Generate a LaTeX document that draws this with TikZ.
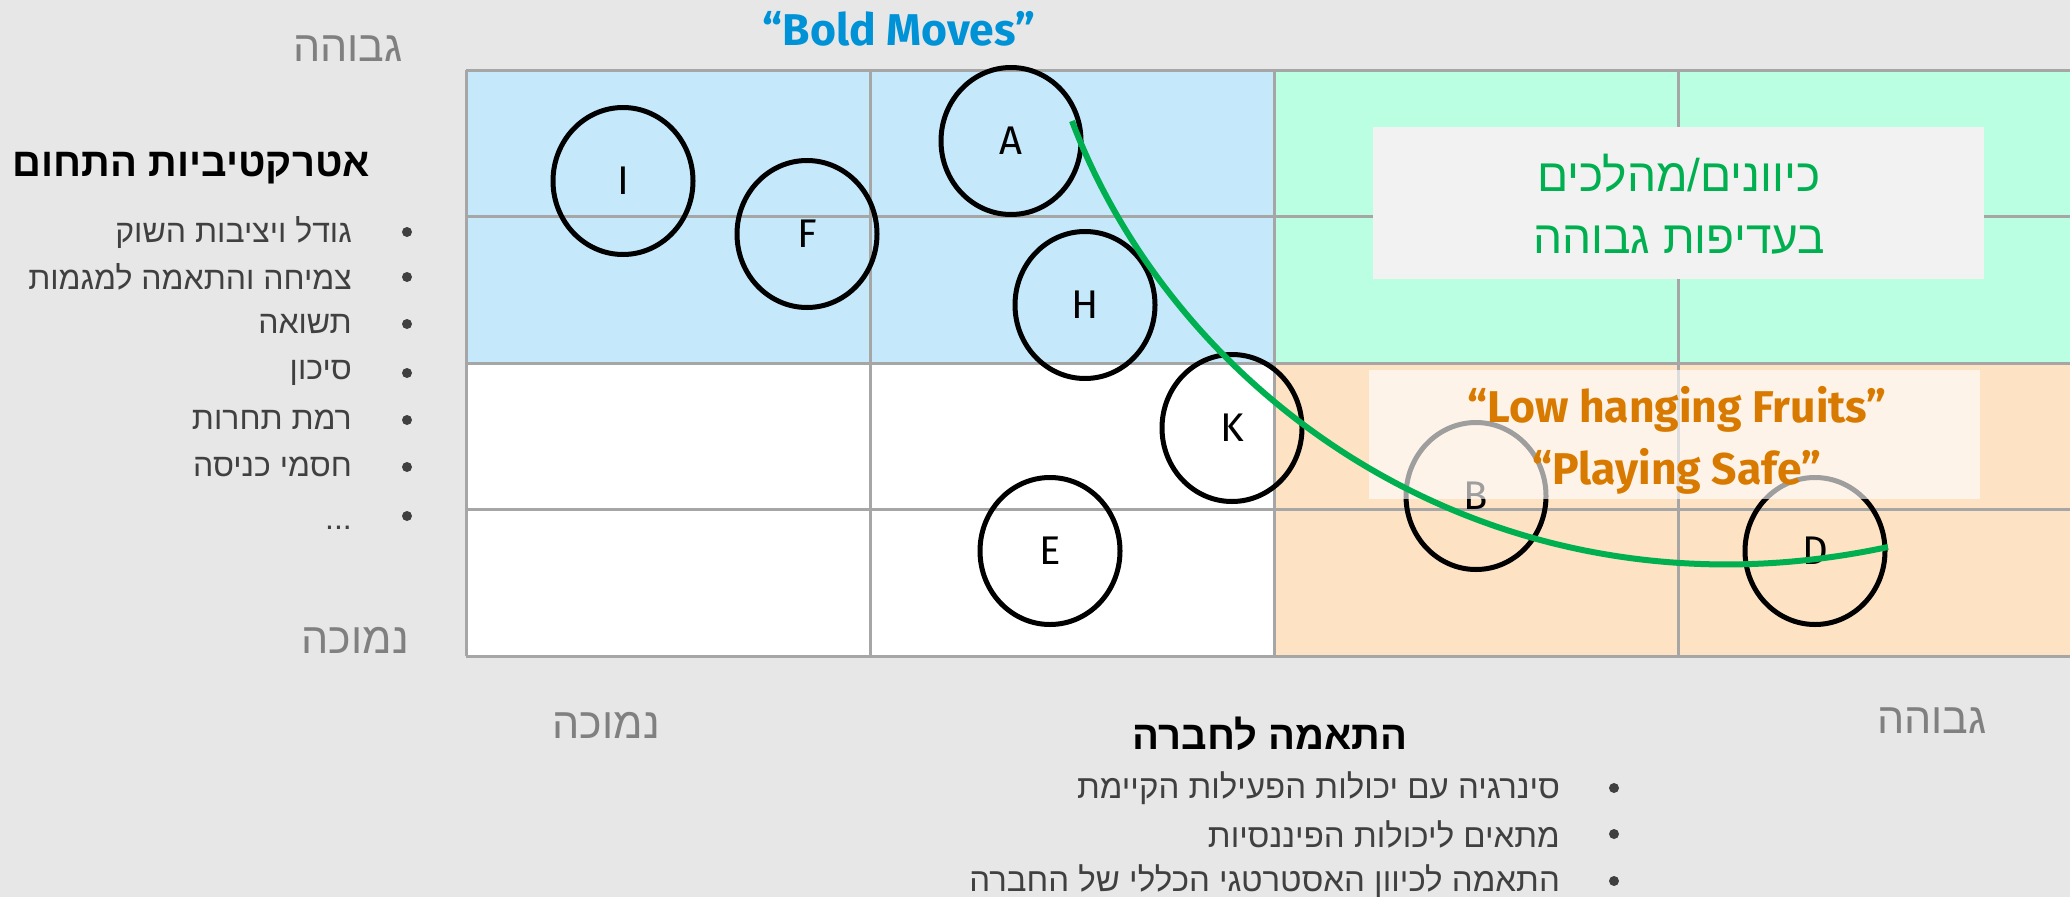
\documentclass[tikz,border=0pt]{standalone}
\usepackage{fontspec}
\usetikzlibrary{shapes.geometric}
\setmainfont{Liberation Sans}
\newfontfamily\heb[Script=Hebrew]{Liberation Sans}
\newfontfamily\lat{Fira Sans}
\TeXXeTstate=1

\definecolor{bgcol}{RGB}{231,231,231}
\definecolor{bluecell}{RGB}{197,233,251}
\definecolor{mintcell}{RGB}{186,255,226}
\definecolor{peachcell}{RGB}{253,226,196}
\definecolor{gridcol}{RGB}{166,166,166}
\definecolor{boxgray}{RGB}{242,242,242}
\definecolor{curvegreen}{RGB}{0,176,80}
\definecolor{boldblue}{RGB}{0,146,214}
\definecolor{fruitorange}{RGB}{217,122,0}
\definecolor{axisgray}{RGB}{128,128,128}
\definecolor{listgray}{RGB}{64,64,64}

\tikzset{
  gridline/.style={draw=gridcol, line width=3pt},
  bubble/.style={ellipse, draw=black, line width=5pt, minimum width=140pt,
    minimum height=147pt, inner sep=0pt, font=\lat\fontsize{40}{48}\selectfont},
  axislabel/.style={anchor=east, text=axisgray, inner sep=0pt,
    font=\heb\fontsize{43}{50}\selectfont},
  heading/.style={inner sep=0pt, text=black,
    font=\heb\bfseries\fontsize{40}{46}\selectfont},
  item/.style={anchor=east, inner sep=0pt, text=listgray,
    font=\heb\fontsize{32}{38}\selectfont},
  bulletdot/.style={circle, fill=listgray, inner sep=0pt, minimum size=10pt},
  tag/.style={inner sep=0pt, font=\lat\bfseries\fontsize{44.5}{52}\selectfont},
  prio/.style={inner sep=0pt, text=curvegreen, font=\heb\fontsize{46}{54}\selectfont},
}

\begin{document}
\begin{tikzpicture}[x=1pt, y=-1pt]
\useasboundingbox (0,0) rectangle (2070,897);
\fill[bgcol] (0,0) rectangle (2070,897);

% quadrant fills
\fill[bluecell]  (466,70)  rectangle (1274,363);
\fill[mintcell]  (1274,70) rectangle (2070,363);
\fill[white]     (466,363) rectangle (1274,656);
\fill[peachcell] (1274,363) rectangle (2070,656);

% grid
\foreach \yy in {70,216.5,363,509.5,656}
  \draw[gridline] (466,\yy) -- (2070,\yy);
\foreach \xx in {466,870,1274,1678}
  \draw[gridline] (\xx,70) -- (\xx,656);

% high-priority label box
\fill[boxgray] (1373,127) rectangle (1984,279);
\node[prio] (prioA) at (1679,173) {\beginR כיוונים/מהלכים\endR};
\node[prio] (prioB) at (1679,240) {\beginR בעדיפות גבוהה\endR};

% options
\node[bubble] (I) at (623,181) {I};
\node[bubble] (F) at (807,234) {F};
\node[bubble] (A) at (1011,141) {A};
\node[bubble] (H) at (1085,305) {H};
\node[bubble] (K) at (1232,428) {K};
\node[bubble] (E) at (1050,551) {E};
\node[bubble] (B) at (1476,496) {B};
\node[bubble] (D) at (1815,551) {D};

% translucent label box over the safe quadrant
\fill[white, opacity=0.62] (1369,370) rectangle (1980,499);
\node[tag, text=fruitorange] (low) at (1677,409) {“Low hanging Fruits”};
\node[tag, text=fruitorange] (safe) at (1677,471) {“Playing Safe”};
\node[tag, text=boldblue] (bold) at (899,29) {“Bold Moves”};

% efficient frontier
\coordinate (c0) at (1072,121);
\coordinate (c3) at (1888,547);
\draw[curvegreen, line width=6pt] (c0) .. controls (1180,405) and (1500,630) .. (c3);

% vertical axis
\node[axislabel] (yhigh) at (403,49) {\beginR גבוהה\endR};
\node[axislabel] (ylow) at (409,640) {\beginR נמוכה\endR};
\node[heading, anchor=east] (ytitle) at (370,168) {\beginR אטרקטיביות התחום\endR};
\foreach \yy/\txt [count=\i] in {232/גודל ויציבות השוק, 277/צמיחה והתאמה למגמות,
    324/תשואה, 373/סיכון, 420/רמת תחרות, 467/חסמי כניסה}{
  \node[bulletdot] (yb\i) at (407,\yy) {};
  \node[item] (yi\i) at (352,\yy) {\beginR\txt\endR};
}
\node[bulletdot] (yb7) at (407,516) {};
\node[item] (yi7) at (352,528) {...};

% horizontal axis
\node[axislabel] (xlow) at (660,725) {\beginR נמוכה\endR};
\node[axislabel] (xhigh) at (1987,721) {\beginR גבוהה\endR};
\node[heading] (xtitle) at (1270,734) {\beginR התאמה לחברה\endR};
\foreach \yy/\txt [count=\i] in {788/סינרגיה עם יכולות הפעילות הקיימת,
    834/מתאים ליכולות הפיננסיות, 881/התאמה לכיוון האסטרטגי הכללי של החברה}{
  \node[bulletdot] (xb\i) at (1614,\yy) {};
  \node[item, font=\heb\fontsize{33}{38}\selectfont] (xi\i) at (1560,\yy) {\beginR\txt\endR};
}
\end{tikzpicture}
\end{document}
